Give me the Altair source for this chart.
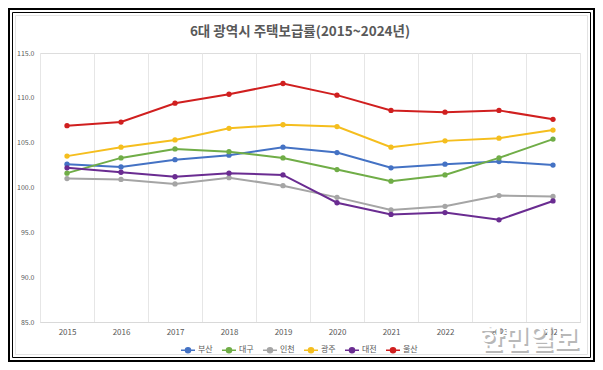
import altair as alt
import pandas as pd

years = ["2015", "2016", "2017", "2018", "2019", "2020", "2021", "2022", "2023", "2024"]
cities = ["부산", "대구", "인천", "광주", "대전", "울산"]
busan = [102.6, 102.3, 103.1, 103.6, 104.5, 103.9, 102.2, 102.6, 102.9, 102.5]
daegu = [101.6, 103.3, 104.3, 104.0, 103.3, 102.0, 100.7, 101.4, 103.3, 105.4]
incheon = [101.0, 100.9, 100.4, 101.1, 100.2, 98.9, 97.5, 97.9, 99.1, 99.0]
gwangju = [103.5, 104.5, 105.3, 106.6, 107.0, 106.8, 104.5, 105.2, 105.5, 106.4]
daejeon = [102.2, 101.7, 101.2, 101.6, 101.4, 98.3, 97.0, 97.2, 96.4, 98.5]
ulsan = [106.9, 107.3, 109.4, 110.4, 111.6, 110.3, 108.6, 108.4, 108.6, 107.6]
colors = ["#4472C4", "#70AD47", "#A5A5A5", "#F5BE1E", "#6A2C91", "#D01F1F"]
y_ticks = [85, 90, 95, 100, 105, 110, 115]
title_text = "6대 광역시 주택보급률(2015~2024년)"
watermark = "한민일보"

series = [busan, daegu, incheon, gwangju, daejeon, ulsan]
rows = []
for city, vals in zip(cities, series):
    for yr, v in zip(years, vals):
        rows.append({"year": yr, "city": city, "value": v})
df = pd.DataFrame(rows)

FONT = "Noto Sans CJK KR"
TXT = "#595959"

x_enc = alt.X(
    "year:O",
    scale=alt.Scale(type="band", paddingInner=0, paddingOuter=0, domain=years),
    bandPosition=0.5,
    axis=alt.Axis(
        title=None, labelAngle=0, labelFontSize=8, labelColor=TXT, labelFont=FONT,
        ticks=False, grid=True, gridColor="#e6e6e6", gridWidth=1, tickBand="extent",
        domainColor="#d9d9d9", labelPadding=6,
    ),
)
y_enc = alt.Y(
    "value:Q",
    scale=alt.Scale(domain=[85, 115], nice=False, zero=False),
    axis=alt.Axis(
        title=None, values=y_ticks, format=".1f", labelFontSize=7, labelColor=TXT,
        labelFont=FONT, ticks=False, domain=False, grid=False, labelPadding=6,
    ),
)
color_enc = alt.Color(
    "city:N",
    scale=alt.Scale(domain=cities, range=colors),
    legend=alt.Legend(
        title=None, orient="none", direction="horizontal", legendX=140, legendY=289,
        symbolType="M-1,0L1,0M-0.36,0A0.36,0.36,0,1,1,0.36,0A0.36,0.36,0,1,1,-0.36,0Z",
        symbolSize=196, symbolStrokeWidth=1.5, labelFontSize=8, labelColor=TXT,
        labelFont=FONT, columnPadding=6, labelOffset=2,
    ),
)

base = alt.Chart(df)
lines = base.mark_line(strokeWidth=2).encode(x=x_enc, y=y_enc, color=color_enc)
points = base.mark_point(filled=True, size=28, opacity=1).encode(x=x_enc, y=y_enc, color=color_enc)

one = alt.Data(values=[{"t": watermark, "title": title_text}])
frame_outer = alt.Chart(one).mark_rect(filled=False, stroke="black", strokeWidth=2).encode(
    x=alt.value(-31), x2=alt.value(554), y=alt.value(-44), y2=alt.value(308))
frame_inner = alt.Chart(one).mark_rect(filled=False, stroke="black", strokeWidth=1).encode(
    x=alt.value(-27.5), x2=alt.value(550.5), y=alt.value(-40.5), y2=alt.value(304.5))
frame_gray = alt.Chart(one).mark_rect(filled=False, stroke="#e3e3e3", strokeWidth=1).encode(
    x=alt.value(-24.5), x2=alt.value(547.5), y=alt.value(-37.5), y2=alt.value(301.5))

title = alt.Chart(one).mark_text(
    font=FONT, fontSize=13.5, fontWeight="bold", color=TXT,
    align="center", baseline="middle",
).encode(text="title:N", x=alt.value(260), y=alt.value(-21))

wm_shadow = alt.Chart(one).mark_text(
    font=FONT, fontSize=27, fontWeight="bold", color="#8a8a8a", opacity=0.6,
    align="center", baseline="middle", dx=2, dy=2,
).encode(text="t:N", x=alt.value(489), y=alt.value(288))
wm = alt.Chart(one).mark_text(
    font=FONT, fontSize=27, fontWeight="bold", color="#ffffff",
    align="center", baseline="middle",
).encode(text="t:N", x=alt.value(489), y=alt.value(288))

chart = alt.layer(
    frame_gray, title, lines, points, wm_shadow, wm, frame_outer, frame_inner
).properties(
    width=540, height=269,
    autosize=alt.AutoSizeParams(type="none"),
    padding={"left": 32, "top": 45, "right": 15, "bottom": 40},
).configure_view(stroke=None).configure(background="white")

chart.save("out.html", embed_options={"renderer": "svg", "actions": False})
